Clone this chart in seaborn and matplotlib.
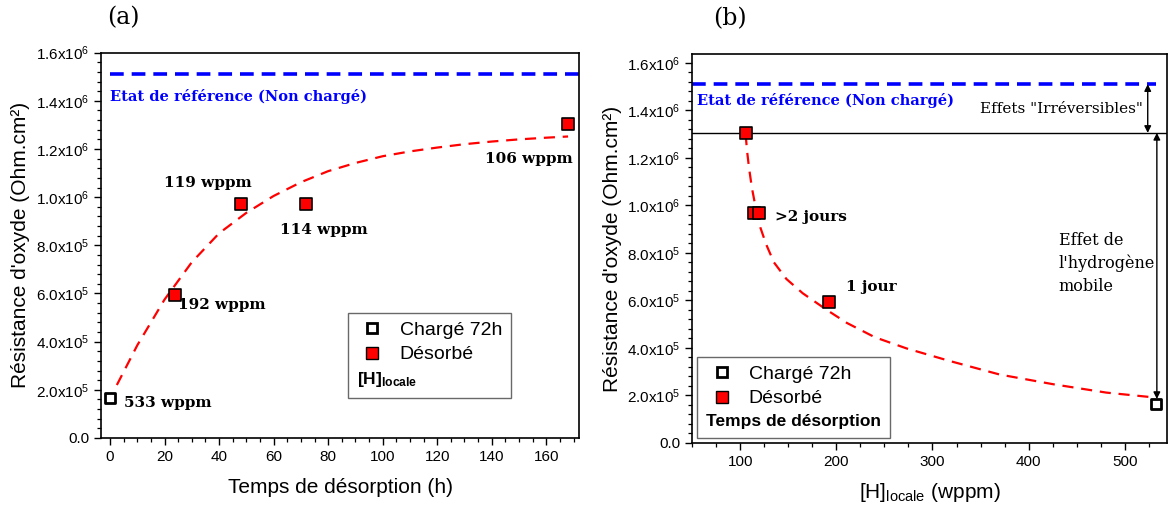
import matplotlib
matplotlib.use("Agg")
import matplotlib.pyplot as plt
from matplotlib.lines import Line2D
from matplotlib.ticker import MultipleLocator
import seaborn as sns

# ---- data, panel (a): oxide resistance vs desorption time ----
t_charged = [0]
r_charged = [1.65e5]
t_desorbed = [24, 48, 72, 168]
r_desorbed = [5.95e5, 9.7e5, 9.7e5, 1.305e6]
wppm_a = ["533 wppm", "192 wppm", "119 wppm", "114 wppm", "106 wppm"]

# dashed fit curve
fit_t = [2.5, 10, 20, 30, 40, 50, 60, 70, 80, 90, 100, 110, 120, 130, 140, 150, 160, 168]
fit_r = [2.2e5, 3.85e5, 5.75e5, 7.3e5, 8.5e5, 9.35e5, 10.05e5, 10.62e5, 11.08e5, 11.42e5,
         11.7e5, 11.9e5, 12.06e5, 12.2e5, 12.31e5, 12.4e5, 12.47e5, 12.52e5]

# ---- data, panel (b): oxide resistance vs local hydrogen ----
h_charged = [533]
rb_charged = [1.65e5]
h_desorbed = [106, 114, 119, 192]
rb_desorbed = [1.305e6, 9.7e5, 9.7e5, 5.95e5]
jours_b = [">2 jours", "1 jour"]

fit_h = [105.5, 107, 109, 112, 116, 121, 127, 135, 148, 165, 190, 211, 240, 273, 318,
         370, 426, 481, 530]
fit_rb = [13.0e5, 12.3e5, 11.6e5, 10.75e5, 9.9e5, 9.05e5, 8.35e5, 7.6e5, 6.9e5, 6.3e5,
          5.6e5, 5.05e5, 4.45e5, 3.98e5, 3.45e5, 2.88e5, 2.47e5, 2.12e5, 1.92e5]

r_reference = 1.51e6
r_desorbed_max = 1.305e6

yticks = [0, 2e5, 4e5, 6e5, 8e5, 1e6, 1.2e6, 1.4e6, 1.6e6]
ytick_labels = ["0.0", "2.0x10$^5$", "4.0x10$^5$", "6.0x10$^5$", "8.0x10$^5$",
                "1.0x10$^6$", "1.2x10$^6$", "1.4x10$^6$", "1.6x10$^6$"]

sns.set_style("ticks")
plt.rcParams["font.family"] = ["Liberation Sans", "DejaVu Sans"]
plt.rcParams["mathtext.fontset"] = "custom"
plt.rcParams["mathtext.rm"] = "Liberation Sans"
plt.rcParams["mathtext.it"] = "Liberation Sans:italic"
plt.rcParams["mathtext.bf"] = "Liberation Sans:bold"
for key in ["axes.edgecolor", "xtick.color", "ytick.color", "text.color", "axes.labelcolor"]:
    plt.rcParams[key] = "black"

SERIF = ["DejaVu Serif"]

fig = plt.figure(figsize=(11.68, 5.11), dpi=100)
ax1 = fig.add_axes([0.0865, 0.1429, 0.4092, 0.754])
ax2 = fig.add_axes([0.5927, 0.1331, 0.4064, 0.7612])


def style_axis(ax):
    for s in ax.spines.values():
        s.set_linewidth(1.2)
        s.set_color("black")
    ax.tick_params(which="major", length=5, width=1, labelsize=11, direction="out")
    ax.tick_params(which="minor", length=2.8, width=0.9, direction="out")
    ax.set_yticks(yticks)
    ax.set_yticklabels(ytick_labels)
    ax.yaxis.set_minor_locator(MultipleLocator(4e4))


def add_legend(ax, title, anchor):
    handles = [Line2D([], [], ls="", marker="s", ms=7, mfc="white", mec="black", mew=2),
               Line2D([], [], ls="", marker="s", ms=8, mfc="red", mec="black", mew=1)]
    leg = ax.legend(handles, ["Chargé 72h", "Désorbé"], title=title, loc="lower left",
                    bbox_to_anchor=anchor, borderaxespad=0, fontsize=14, frameon=True,
                    fancybox=False, handlelength=1.6, handletextpad=0.6,
                    labelspacing=0.35, borderpad=0.45, alignment="left",
                    title_fontproperties={"weight": "bold", "size": 12.5})
    leg.get_frame().set_edgecolor("#444444")
    leg.get_frame().set_linewidth(1.0)
    # put the title row under the entries
    leg._legend_box._children = leg._legend_box._children[::-1]
    return leg


# ---------------- panel (a) ----------------
ax = ax1
sns.lineplot(x=fit_t, y=fit_r, ax=ax, color="red", lw=1.6, dashes=(5, 3.5), zorder=2)
ax.hlines(r_reference, 0, 172, colors="blue", lw=2.6, linestyles=(0, (3.8, 2.2)))
sns.scatterplot(x=t_desorbed, y=r_desorbed, ax=ax, marker="s", s=70, color="red",
                edgecolor="black", linewidth=1.2, zorder=3)
sns.scatterplot(x=t_charged, y=r_charged, ax=ax, marker="s", s=42, color="white",
                edgecolor="black", linewidth=2, zorder=3)
ax.set_xlim(-3.3, 172)
ax.set_ylim(0, 1.6e6)
style_axis(ax)
ax.xaxis.set_major_locator(MultipleLocator(20))
ax.xaxis.set_minor_locator(MultipleLocator(5))
ax.set_xlabel("Temps de désorption (h)", fontsize=15, labelpad=10)
ax.set_ylabel("Résistance d'oxyde (Ohm.cm²)", fontsize=15, labelpad=4)

ax.text(0, 1.416e6, "Etat de référence (Non chargé)", color="blue", fontweight="bold",
        fontsize=10.5, family=SERIF, va="center", ha="left")
pos_a = [(5.1, 1.45e5), (25, 5.52e5), (19.8, 1.06e6), (62.4, 8.64e5), (137.6, 1.157e6)]
for lab, (x, y) in zip(wppm_a, pos_a):
    ax.text(x, y, lab, fontweight="bold", fontsize=11, family=SERIF, va="center", ha="left")
add_legend(ax, "[H]$_{\\mathbf{locale}}$", (0.517, 0.104))
ax.text(0.0125, 1.06, "(a)", transform=ax.transAxes, fontsize=17, family=SERIF,
        ha="left", va="bottom")

# ---------------- panel (b) ----------------
ax = ax2
sns.lineplot(x=fit_h, y=fit_rb, ax=ax, color="red", lw=1.6, dashes=(5, 3.5), zorder=2,
             sort=False)
ax.hlines(r_reference, 50, 533, colors="blue", lw=2.6, linestyles=(0, (3.8, 2.2)))
ax.axhline(r_desorbed_max, color="black", lw=1.0, zorder=1)
sns.scatterplot(x=h_desorbed, y=rb_desorbed, ax=ax, marker="s", s=70, color="red",
                edgecolor="black", linewidth=1.2, zorder=3)
sns.scatterplot(x=h_charged, y=rb_charged, ax=ax, marker="s", s=42, color="white",
                edgecolor="black", linewidth=2, zorder=3)
ax.set_xlim(50, 544)
ax.set_ylim(3.5e4, 1.637e6)
style_axis(ax)
ax.xaxis.set_major_locator(MultipleLocator(100))
ax.xaxis.set_minor_locator(MultipleLocator(25))
ax.set_xlabel("[H]$_{\\mathrm{locale}}$ (wppm)", fontsize=15, labelpad=9)
ax.set_ylabel("Résistance d'oxyde (Ohm.cm²)", fontsize=15, labelpad=4)

ax.text(55.3, 1.443e6, "Etat de référence (Non chargé)", color="blue", fontweight="bold",
        fontsize=10.5, family=SERIF, va="center", ha="left")
pos_b = [(136.4, 9.5e5), (210.2, 6.58e5)]
for lab, (x, y) in zip(jours_b, pos_b):
    ax.text(x, y, lab, fontweight="bold", fontsize=11, family=SERIF, va="center", ha="left")

arrow = dict(arrowstyle="<|-|>", color="black", lw=1.0, mutation_scale=10,
             shrinkA=0, shrinkB=0)
ax.annotate("", xy=(524, r_desorbed_max), xytext=(524, r_reference), arrowprops=arrow)
ax.annotate("", xy=(533.5, 1.85e5), xytext=(533.5, r_desorbed_max), arrowprops=arrow)
ax.text(519, 1.406e6, "Effets \"Irréversibles\"", fontsize=11, family=SERIF,
        ha="right", va="center")
ax.text(431.5, 7.56e5, "Effet de\nl'hydrogène\nmobile", fontsize=11.5, family=SERIF,
        ha="left", va="center", linespacing=1.45)
add_legend(ax, "Temps de désorption", (0.0105, 0.013))
ax.text(0.044, 1.06, "(b)", transform=ax.transAxes, fontsize=17, family=SERIF,
        ha="left", va="bottom")

fig.savefig("out.png", dpi=100)
